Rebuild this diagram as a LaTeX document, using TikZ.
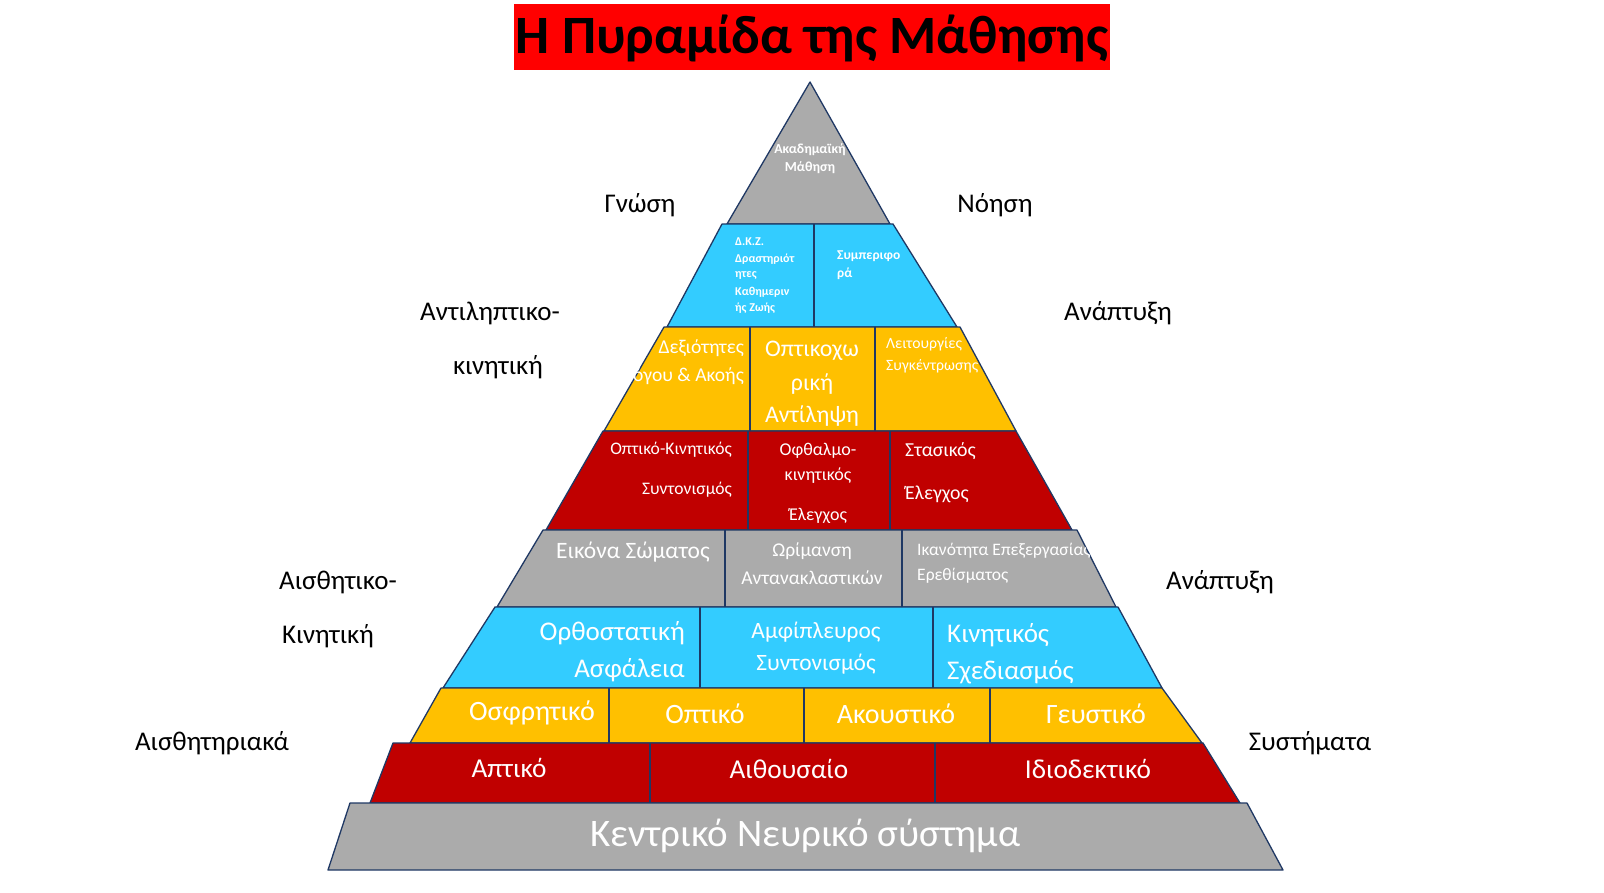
\documentclass[tikz,border=0pt]{standalone}
\usepackage{fontspec}
\setmainfont{Carlito}
\definecolor{tred}{HTML}{FF0000}
\definecolor{pgray}{HTML}{ABABAB}
\definecolor{pcyan}{HTML}{33CCFF}
\definecolor{pyel}{HTML}{FFC000}
\definecolor{pred}{HTML}{C00000}
\definecolor{edgec}{HTML}{1F3864}
\newcommand\pfs[1]{\fontsize{#1}{#1}\selectfont}
\tikzset{
 band/.style={draw=edgec, line width=1.3pt, line join=round},
 sepline/.style={draw=edgec, line width=1.3pt},
 wt/.style={text=white, inner sep=0pt},
 side/.style={text=black, inner sep=0pt, font=\pfs{27}},
}
\begin{document}
\begin{tikzpicture}[x=1pt,y=-1pt]
\useasboundingbox (0,0) rectangle (1604,892);
\fill[white] (0,0) rectangle (1604,892);
% title
\fill[tred] (514,4) rectangle (1110,70);
\node[inner sep=0pt, font=\bfseries\pfs{54}] (title) at (812,38) {Η Πυραμίδα της Μάθησης};
% rows
\filldraw[band, fill=pgray] (810,82) -- (890,224) -- (727,224) -- cycle;
\filldraw[band, fill=pcyan] (722,224) -- (893,224) -- (957,327) -- (667,327) -- cycle;
\draw[sepline] (814,224) -- (814,327);
\filldraw[band, fill=pyel] (664,327) -- (960,327) -- (1016,431) -- (604,431) -- cycle;
\draw[sepline] (750,327) -- (750,431);
\draw[sepline] (875,327) -- (875,431);
\filldraw[band, fill=pred] (603,431) -- (1016,431) -- (1072,530) -- (546,530) -- cycle;
\draw[sepline] (748,431) -- (748,530);
\draw[sepline] (890,431) -- (890,530);
\filldraw[band, fill=pgray] (543,530) -- (1077,530) -- (1116,607) -- (497,607) -- cycle;
\draw[sepline] (725,530) -- (725,607);
\draw[sepline] (902,530) -- (902,607);
\filldraw[band, fill=pcyan] (495,607) -- (1118,607) -- (1162,688) -- (443,688) -- cycle;
\draw[sepline] (700,607) -- (700,688);
\draw[sepline] (933,607) -- (933,688);
\filldraw[band, fill=pyel] (441,688) -- (1162,688) -- (1202,743) -- (410,743) -- cycle;
\draw[sepline] (609,688) -- (609,743);
\draw[sepline] (804,688) -- (804,743);
\draw[sepline] (990,688) -- (990,743);
\filldraw[band, fill=pred] (393,743) -- (1203,743) -- (1240,803) -- (370,803) -- cycle;
\draw[sepline] (650,743) -- (650,803);
\draw[sepline] (935,743) -- (935,803);
\filldraw[band, fill=pgray] (350,803) -- (1247,803) -- (1283,870) -- (328,870) -- cycle;
% top
\node[wt, font=\bfseries\pfs{13.8}] (t1) at (810,150) {Ακαδημαϊκή};
\node[wt, font=\bfseries\pfs{13.8}] (t2) at (810,168) {Μάθηση};
% row 2
\foreach \txt/\yy [count=\i] in {Δ.Κ.Ζ./242, Δραστηριότ/259, ητες/275, Καθημεριν/292, ής Ζωής/308}
  \node[wt, anchor=west, font=\bfseries\pfs{12}] (r2a\i) at (735,\yy) {\txt};
\node[wt, anchor=west, font=\bfseries\pfs{13.5}] (r2b1) at (837,256) {Συμπεριφο};
\node[wt, anchor=west, font=\bfseries\pfs{13.5}] (r2b2) at (837,274) {ρά};
% row 3
\node[wt, anchor=east, font=\pfs{19.6}] (r3a1) at (744,348) {Δεξιότητες};
\node[wt, anchor=east, font=\pfs{19.6}] (r3a2) at (744,376) {όγου \& Ακοής};
\node[wt, font=\pfs{23.8}] (r3b1) at (812,351) {Οπτικοχω};
\node[wt, font=\pfs{23.8}] (r3b2) at (812,384) {ρική};
\node[wt, font=\pfs{23.8}] (r3b3) at (812,416) {Αντίληψη};
\node[wt, anchor=west, font=\pfs{15.7}] (r3c1) at (886,344) {Λειτουργίες};
\node[wt, anchor=west, font=\pfs{15.7}] (r3c2) at (886,366) {Συγκέντρωσης};
% row 4
\node[wt, anchor=east, font=\pfs{17.6}] (r4a1) at (732,450) {Οπτικό-Κινητικός};
\node[wt, anchor=east, font=\pfs{17.6}] (r4a2) at (732,490) {Συντονισμός};
\node[wt, font=\pfs{18}] (r4b1) at (818,451) {Οφθαλμο-};
\node[wt, font=\pfs{18}] (r4b2) at (818,476) {κινητικός};
\node[wt, font=\pfs{18}] (r4b3) at (818,516) {Έλεγχος};
\node[wt, anchor=west, font=\pfs{19.8}] (r4c1) at (905,451) {Στασικός};
\node[wt, anchor=west, font=\pfs{19.8}] (r4c2) at (905,494) {Έλεγχος};
% row 5
\node[wt, anchor=east, font=\pfs{23.5}] (r5a1) at (710,552) {Εικόνα Σώματος};
\node[wt, font=\pfs{19.5}] (r5b1) at (812,551) {Ωρίμανση};
\node[wt, font=\pfs{19.5}] (r5b2) at (812,578) {Αντανακλαστικών};
\begin{scope}
\clip (902,530) -- (1077,530) -- (1116,607) -- (902,607) -- cycle;
\node[wt, anchor=west, font=\pfs{17.5}] (r5c1) at (917,551) {Ικανότητα Επεξεργασίας};
\end{scope}
\node[wt, anchor=west, font=\pfs{17.5}] (r5c2) at (917,576) {Ερεθίσματος};
% row 6
\node[wt, anchor=east, font=\pfs{27}] (r6a1) at (685,633) {Ορθοστατική};
\node[wt, anchor=east, font=\pfs{27}] (r6a2) at (685,670) {Ασφάλεια};
\node[wt, font=\pfs{23.4}] (r6b1) at (816,632) {Αμφίπλευρος};
\node[wt, font=\pfs{23.4}] (r6b2) at (816,664) {Συντονισμός};
\node[wt, anchor=west, font=\pfs{27}] (r6c1) at (947,635) {Κινητικός};
\node[wt, anchor=west, font=\pfs{27}] (r6c2) at (947,672) {Σχεδιασμός};
% row 7
\node[wt, font=\pfs{28}] (r7a) at (532,713) {Οσφρητικό};
\node[wt, font=\pfs{28}] (r7b) at (705,714) {Οπτικό};
\node[wt, font=\pfs{28}] (r7c) at (896,714) {Ακουστικό};
\node[wt, font=\pfs{28}] (r7d) at (1096,714) {Γευστικό};
% row 8
\node[wt, font=\pfs{27.3}] (r8a) at (509,768) {Απτικό};
\node[wt, font=\pfs{27.3}] (r8b) at (789,769) {Αιθουσαίο};
\node[wt, font=\pfs{27.3}] (r8c) at (1088,769) {Ιδιοδεκτικό};
% row 9
\node[wt, font=\pfs{39}] (r9) at (805,836) {Κεντρικό Νευρικό σύστημα};
% side labels
\node[side] (s1) at (640,205) {Γνώση};
\node[side] (s2) at (995,205) {Νόηση};
\node[side] (s3) at (490,313) {Αντιληπτικο-};
\node[side] (s4) at (498,367) {κινητική};
\node[side] (s5) at (1118,313) {Ανάπτυξη};
\node[side] (s6) at (338,582) {Αισθητικο-};
\node[side] (s7) at (328,636) {Κινητική};
\node[side] (s8) at (1220,582) {Ανάπτυξη};
\node[side] (s9) at (212,743) {Αισθητηριακά};
\node[side] (s10) at (1310,743) {Συστήματα};
\end{tikzpicture}
\end{document}
